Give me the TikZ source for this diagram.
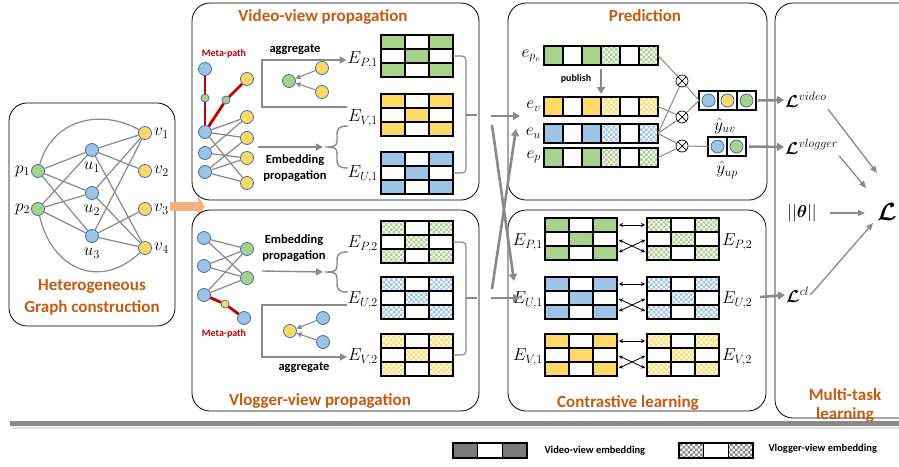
\documentclass[tikz,border=0pt]{standalone}
\usepackage{amsmath}
\usepackage{amssymb}
\usepackage{bm}
\usepackage[no-math]{fontspec}
\setmainfont{Carlito}
\usetikzlibrary{positioning, arrows.meta, calc, patterns}

\definecolor{pgreen}{HTML}{A9D18E}
\definecolor{pyellow}{HTML}{FFD966}
\definecolor{pblue}{HTML}{9DC3E6}
\definecolor{ptitle}{HTML}{C55A11}
\definecolor{porange}{HTML}{F4B183}
\definecolor{pred}{HTML}{C00000}
\definecolor{pline}{HTML}{898989}
\definecolor{pnode}{HTML}{41719C}

\pgfdeclarepatternformonly{finecheck}{\pgfqpoint{-0.1pt}{-0.1pt}}{\pgfqpoint{5.1pt}{5.1pt}}{\pgfqpoint{5pt}{5pt}}{%
  \pgfpathrectangle{\pgfqpoint{0pt}{0pt}}{\pgfqpoint{2.5pt}{2.5pt}}%
  \pgfpathrectangle{\pgfqpoint{2.5pt}{2.5pt}}{\pgfqpoint{2.5pt}{2.5pt}}%
  \pgfusepath{fill}}

\tikzset{
  panel/.style={draw=black, line width=0.8pt, rounded corners=18pt},
  ttl/.style={font=\fontsize{17}{22}\selectfont\bfseries, text=ptitle, align=center},
  boldtag/.style={font=\fontsize{12.5}{16}\selectfont\bfseries, align=center},
  redtag/.style={font=\fontsize{10}{12}\selectfont\bfseries, text=pred},
  legtext/.style={font=\fontsize{10.5}{12}\selectfont\bfseries},
  mlbl/.style={font=\fontsize{17}{20}\selectfont, inner sep=1pt},
  bignode/.style={circle, draw=pnode, line width=0.8pt, minimum size=13pt, inner sep=0pt},
  smallnode/.style={bignode, minimum size=8pt},
  glink/.style={draw=pline, line width=1.2pt},
  metalink/.style={draw=pred, line width=2.8pt},
  aggline/.style={draw=pline, line width=1.4pt},
  headarrow/.style={-{Triangle[length=7pt,width=7pt]}},
  smallarrow/.style={draw=pline, line width=1.1pt, -{Triangle[length=5pt,width=5pt]}},
  bigarrow/.style={draw=pline, line width=2.6pt, -{Triangle[length=7pt,width=8pt]}},
  lossarrow/.style={draw=pline, line width=1.3pt, -{Triangle[length=7pt,width=6pt]}},
  pairarrow/.style={black, line width=0.8pt, {Stealth[length=4pt,width=4pt]}-{Stealth[length=4pt,width=4pt]}, shorten <=2pt, shorten >=2pt},
  bracketline/.style={draw=pline, line width=1.2pt, rounded corners=4pt},
  gridline/.style={draw=black, line width=1.3pt, line cap=rect},
  cellbox/.style={inner sep=0pt, outer sep=0pt},
  otimes/.style={circle, draw=black, fill=white, line width=0.7pt, minimum size=12pt, inner sep=0pt,
    path picture={\draw[line width=0.7pt] (path picture bounding box.north west) -- (path picture bounding box.south east)
      (path picture bounding box.north east) -- (path picture bounding box.south west);}}
}

% 3x3 embedding table: name, top left corner, fill
\newcommand{\embgrid}[3]{%
  \begin{scope}[shift={#2}]
    \node[cellbox, minimum width=72pt, minimum height=42pt, anchor=north west] (#1) at (0,0) {};
    \foreach \cc/\rr in {0/0,2/0,1/1,0/2,2/2}
      \fill[#3] (\cc*24,\rr*14) rectangle ++(24,14);
    \foreach \ii in {0,1,2,3} {
      \draw[gridline] (\ii*24,0) -- (\ii*24,42);
      \draw[gridline] (0,\ii*14) -- (72,\ii*14);
    }
  \end{scope}}

% 1x6 concatenated embedding: name, top left corner, colour
\newcommand{\embrow}[3]{%
  \begin{scope}[shift={#2}]
    \node[cellbox, minimum width=114pt, minimum height=19pt, anchor=north west] (#1) at (0,0) {};
    \foreach \cc in {0,2} \fill[#3] (\cc*19,0) rectangle ++(19,19);
    \foreach \cc in {3,5} \fill[pattern=finecheck, pattern color=#3] (\cc*19,0) rectangle ++(19,19);
    \foreach \ii in {0,...,6} \draw[gridline] (\ii*19,0) -- (\ii*19,19);
    \draw[gridline] (0,0) -- (114,0) (0,19) -- (114,19);
  \end{scope}}

\begin{document}
\begin{tikzpicture}[x=1pt, y=-1pt]
\useasboundingbox (0,0) rectangle (899,466);

% Heterogeneous graph
\draw[panel] (9,103) rectangle (175,326);
\node[ttl] (hettitle) at (92,297) {Heterogeneous\\Graph construction};
\node[bignode, fill=pgreen] (p1) at (38,171) {};
\node[bignode, fill=pgreen] (p2) at (38,209) {};
\node[bignode, fill=pblue] (u1) at (92,150) {};
\node[bignode, fill=pblue] (u2) at (92,193) {};
\node[bignode, fill=pblue] (u3) at (92,236) {};
\node[bignode, fill=pyellow] (v1) at (145,133) {};
\node[bignode, fill=pyellow] (v2) at (145,171) {};
\node[bignode, fill=pyellow] (v3) at (145,209) {};
\node[bignode, fill=pyellow] (v4) at (145,248) {};
\node[mlbl, left=0pt of p1] (p1l) {$p_1$};
\node[mlbl, left=0pt of p2] (p2l) {$p_2$};
\foreach \k in {1,2,3}
  \node[mlbl, below=4pt of u\k] (u\k l) {$u_\k$};
\foreach \k in {1,...,4}
  \node[mlbl, right=1pt of v\k] (v\k l) {$v_\k$};
\foreach \a/\b in {p1/u1,p1/u2,p1/u3,p2/u1,p2/u2,p2/u3,u1/v1,u1/v2,u1/v4,u2/v1,u2/v4,u3/v1,u3/v3,u3/v4}
  \draw[glink] (\a) -- (\b);
\draw[glink] (p1) .. controls (52,120) and (100,108) .. (v1);
\draw[glink] (p2) .. controls (52,270) and (100,290) .. (v4);

% into vlogger view
\coordinate (hetout) at (170,206.5);
\coordinate (vlogin) at (205,206.5);
\draw[porange, line width=9pt, -{Triangle[length=7pt,width=20pt]}] (hetout) -- (vlogin);

% Video-view propagation
\draw[panel] (192,3) rectangle (479,200);
\node[ttl] (vidtitle) at (323,17) {Video-view propagation};
\node[redtag] (meta1) at (224,54) {Meta-path};
\node[bignode, fill=pblue] (mb1) at (205,69) {};
\node[smallnode, fill=pgreen] (mg1) at (205,98) {};
\node[bignode, fill=pblue] (mb2) at (205,132) {};
\node[smallnode, fill=pgreen] (mg2) at (226,100) {};
\node[bignode, fill=pyellow] (my1) at (247,79) {};
\node[bignode, fill=pblue] (b2) at (205,153) {};
\node[bignode, fill=pblue] (b3) at (205,172) {};
\node[bignode, fill=pyellow] (y1) at (247,117) {};
\node[bignode, fill=pyellow] (y2) at (247,138) {};
\node[bignode, fill=pyellow] (y3) at (247,158) {};
\node[bignode, fill=pyellow] (y4) at (247,183) {};
\foreach \a/\b in {mb1/mg1,mg1/mb2,mb2/mg2,mg2/my1}
  \draw[metalink] (\a) -- (\b);
\foreach \a/\b in {mb2/y1,mb2/y2,mb2/y4,b2/y1,b2/y3,b3/y2,b3/y3,b3/y4}
  \draw[glink] (\a) -- (\b);
\node[bignode, fill=pgreen] (ag) at (289,81) {};
\node[bignode, fill=pyellow] (ay1) at (322,68) {};
\node[bignode, fill=pyellow] (ay2) at (322,92) {};
\draw[smallarrow] (ay1) -- (ag);
\draw[smallarrow] (ay2) -- (ag);
\node[boldtag] (agg1) at (295,50) {aggregate};
\node[boldtag] (emb1) at (295,168) {Embedding\\propagation};

\embgrid{ep1}{(381,35)}{pgreen}
\embgrid{ev1}{(381,94)}{pyellow}
\embgrid{eu1}{(381,152)}{pblue}
\node[mlbl, anchor=east] (ep1l) at (379,60) {$E_{P,1}$};
\node[mlbl, anchor=east] (ev1l) at (379,118) {$E_{V,1}$};
\node[mlbl, anchor=east] (eu1l) at (379,174) {$E_{U,1}$};

\coordinate (aggv) at (262,107);
\draw[aggline, headarrow] (aggv -| ev1l.west) -- (aggv) |- (ep1l.west);
\coordinate (embv) at (258,147);
\coordinate (bracev) at (325,147);
\draw[aggline, headarrow, shorten >=2pt] (embv) -- (bracev);
\begin{scope}[shift={(bracev)}]
\draw[aggline] (23,-21) .. controls (14,-21) and (12,-19) .. (12,-12) -- (12,-6)
  .. controls (12,-1) and (9,0) .. (0,0) .. controls (9,0) and (12,1) .. (12,6) -- (12,12)
  .. controls (12,19) and (14,21) .. (23,21);
\end{scope}
\draw[bracketline] (ep1.east) -- ++(13,0) |- (eu1.east);
\coordinate (tickv) at ($(ev1.east)+(24,0)$);
\draw[bracketline] ($(ev1.east)+(13,0)$) -- (tickv);

% Vlogger-view propagation
\draw[panel] (192,210) rectangle (479,411);
\node[ttl] (vlogtitle) at (320,401) {Vlogger-view propagation};
\node[bignode, fill=pblue] (vb1) at (204,238) {};
\node[bignode, fill=pblue] (vb2) at (204,266) {};
\node[bignode, fill=pblue] (vb3) at (204,295) {};
\node[bignode, fill=pgreen] (vg1) at (247,249) {};
\node[bignode, fill=pgreen] (vg2) at (247,278) {};
\node[smallnode, fill=pyellow] (vsy) at (225,304) {};
\node[bignode, fill=pblue] (vb4) at (244,318) {};
\node[redtag] (meta2) at (224,334) {Meta-path};
\foreach \a/\b in {vb3/vsy,vsy/vb4}
  \draw[metalink] (\a) -- (\b);
\foreach \a in {vb1,vb2,vb3}
  \foreach \b in {vg1,vg2}
    \draw[glink] (\a) -- (\b);
\node[bignode, fill=pyellow] (agy) at (290,331) {};
\node[bignode, fill=pblue] (ab1) at (323,318) {};
\node[bignode, fill=pblue] (ab2) at (323,342) {};
\draw[smallarrow] (ab1) -- (agy);
\draw[smallarrow] (ab2) -- (agy);
\node[boldtag] (emb2) at (294,248) {Embedding\\propagation};
\node[boldtag] (agg2) at (304,368) {aggregate};

\embgrid{ep2}{(381,221)}{pattern=finecheck, pattern color=pgreen}
\embgrid{eu2}{(381,277)}{pattern=finecheck, pattern color=pblue}
\embgrid{ev2}{(381,334)}{pattern=finecheck, pattern color=pyellow}
\node[mlbl, anchor=east] (ep2l) at (379,244) {$E_{P,2}$};
\node[mlbl, anchor=east] (eu2l) at (379,300) {$E_{U,2}$};
\node[mlbl, anchor=east] (ev2l) at (379,357) {$E_{V,2}$};

\coordinate (embp) at (262,271);
\coordinate (bracep) at (325,272);
\draw[aggline, headarrow, shorten >=2pt] (embp) -- (bracep);
\begin{scope}[shift={(bracep)}]
\draw[aggline] (23,-20) .. controls (14,-20) and (12,-18) .. (12,-11) -- (12,-6)
  .. controls (12,-1) and (9,0) .. (0,0) .. controls (9,0) and (12,1) .. (12,6) -- (12,11)
  .. controls (12,18) and (14,20) .. (23,20);
\end{scope}
\coordinate (aggp) at (262,305);
\draw[aggline, headarrow] (aggp -| eu2l.west) -- (aggp) |- (ev2l.west);
\draw[bracketline] (ep2.east) -- ++(13,0) |- (ev2.east);
\coordinate (tickp) at ($(eu2.east)+(24,0)$);
\draw[bracketline] ($(eu2.east)+(13,0)$) -- (tickp);

% Prediction
\draw[panel] (508,3) rectangle (767,200);
\node[ttl] (predtitle) at (645,16) {Prediction};
\embrow{epv}{(544,46)}{pgreen}
\embrow{ev}{(544,97)}{pyellow}
\embrow{eu}{(544,124)}{pblue}
\embrow{ep}{(544,148)}{pgreen}
\node[mlbl, anchor=east] (epvl) at (542,56) {$e_{p_v}$};
\node[mlbl, anchor=east] (evl) at (542,106) {$e_v$};
\node[mlbl, anchor=east] (eul) at (542,133) {$e_u$};
\node[mlbl, anchor=east] (epl) at (542,157) {$e_p$};
\node[redtag, text=black] (publ) at (576,79) {publish};
\draw[bigarrow, shorten <=4pt, shorten >=3pt] (epv.south) -- (ev.north);
\node[otimes] (o1) at (682,81) {};
\node[otimes] (o2) at (682,117) {};
\node[otimes] (o3) at (682,146) {};
\foreach \a/\b in {epv/o1,eu/o1,ev/o2,eu/o2,eu/o3,ep/o3}
  \draw[pline, line width=1pt] (\a.east) -- (\b);
\node[cellbox, minimum width=57pt, minimum height=19pt, anchor=north west] (yuv) at (699,91) {};
\foreach \cc/\clr in {0/pblue,1/pyellow,2/pgreen} {
  \draw[gridline] (699+\cc*19,91) rectangle ++(19,19);
  \node[bignode, fill=\clr] (yuvdot\cc) at (708.5+\cc*19,100.5) {};
}
\node[cellbox, minimum width=38pt, minimum height=19pt, anchor=north west] (yup) at (708,137) {};
\foreach \cc/\clr in {0/pblue,1/pgreen} {
  \draw[gridline] (708+\cc*19,137) rectangle ++(19,19);
  \node[bignode, fill=\clr] (yupdot\cc) at (717.5+\cc*19,146.5) {};
}
\draw[pline, line width=1pt] (o1) -- (yuv.west);
\draw[pline, line width=1pt] (o2) -- (yuv.west);
\draw[pline, line width=1pt] (o3) -- (yup.west);
\node[mlbl] (yuvl) at (725,126) {$\hat{y}_{uv}$};
\node[mlbl] (yupl) at (727,170) {$\hat{y}_{up}$};

% Contrastive learning
\draw[panel] (508,210) rectangle (766,411);
\node[ttl] (cltitle) at (628,403) {Contrastive learning};
\embgrid{cp1}{(545,218)}{pgreen}
\embgrid{cu1}{(545,277)}{pblue}
\embgrid{cv1}{(545,334)}{pyellow}
\embgrid{cp2}{(647,218)}{pattern=finecheck, pattern color=pgreen}
\embgrid{cu2}{(647,277)}{pattern=finecheck, pattern color=pblue}
\embgrid{cv2}{(647,334)}{pattern=finecheck, pattern color=pyellow}
\foreach \m in {p,u,v} {
  \draw[pairarrow] ($(c\m1.north east)+(0,7)$) -- ($(c\m2.north west)+(0,7)$);
  \draw[pairarrow] ($(c\m1.north east)+(0,21)$) -- ($(c\m2.north west)+(0,35)$);
  \draw[pairarrow] ($(c\m1.north east)+(0,35)$) -- ($(c\m2.north west)+(0,21)$);
}
\node[mlbl, anchor=east] (cp1l) at (544,242) {$E_{P,1}$};
\node[mlbl, anchor=east] (cu1l) at (544,300) {$E_{U,1}$};
\node[mlbl, anchor=east] (cv1l) at (544,357) {$E_{V,1}$};
\node[mlbl, anchor=west] (cp2l) at (721,242) {$E_{P,2}$};
\node[mlbl, anchor=west] (cu2l) at (721,300) {$E_{U,2}$};
\node[mlbl, anchor=west] (cv2l) at (721,357) {$E_{V,2}$};

% views into prediction and contrastive learning
\coordinate (toev) at (520,116);
\coordinate (tocu) at (520,298);
\draw[bigarrow] ($(tickv)+(14,1)$) -- (toev);
\draw[bigarrow] ($(tickp)+(14,0)$) -- (tocu);
\coordinate (crossv) at (492,125);
\coordinate (crossvend) at (514,281);
\coordinate (crossp) at (492,289);
\coordinate (crosspend) at (516,129);
\draw[bigarrow] (crossv) -- (crossvend);
\draw[bigarrow] (crossp) -- (crosspend);

% Multi-task learning
\draw[panel] (775,3) rectangle (935,418);
\node[ttl, font=\fontsize{17}{19}\selectfont\bfseries] (mttitle) at (845,405) {Multi-task\\learning};
\node[mlbl, anchor=west] (lvideo) at (784,100) {$\bm{\mathcal{L}}^{video}$};
\node[mlbl, anchor=west] (lvlogger) at (784,147) {$\bm{\mathcal{L}}^{vlogger}$};
\node[mlbl] (ltheta) at (802,213) {$||\bm{\theta}||$};
\node[mlbl, anchor=west] (lcl) at (785,295) {$\bm{\mathcal{L}}^{cl}$};
\node[mlbl, font=\fontsize{26}{28}\selectfont, anchor=west] (lbig) at (876,212) {$\bm{\mathcal{L}}$};
\draw[bigarrow, shorten <=2pt] (yuv.east) -- (lvideo.west);
\draw[bigarrow, shorten <=3pt] (yup.east) -- (lvlogger.west);
\coordinate (clout) at (760,297);
\draw[bigarrow] (clout) -- (lcl.west);
\draw[lossarrow] (lvideo.south east) -- ($(lbig.west)+(1,-39)$);
\draw[lossarrow] (lvlogger.south east) -- ($(lbig.west)+(-10,-24)$);
\draw[lossarrow, shorten <=12pt] (ltheta.east) -- ($(lbig.west)+(-11,1)$);
\draw[lossarrow] (lcl.east) -- ($(lbig.west)+(-3,11)$);

% rule and legend
\draw[line width=2pt, black!12] (12,427.5) -- (899,427.5);
\draw[line width=4.5pt, pline] (10,423.5) -- (899,423.5);
\node[cellbox, minimum width=74pt, minimum height=15pt, anchor=north west] (legv) at (453,443) {};
\fill[pline!90!black] (453,443) rectangle ++(24.7,15) (502.3,443) rectangle ++(24.7,15);
\draw[gridline] (453,443) rectangle (527,458) (477.7,443) -- (477.7,458) (502.3,443) -- (502.3,458);
\node[legtext, anchor=west] (legvt) at (541,451) {Video-view embedding};
\node[cellbox, minimum width=74pt, minimum height=15pt, anchor=north west] (legg) at (679,443) {};
\fill[pattern=finecheck, pattern color=pline] (679,443) rectangle ++(24.7,15) (728.3,443) rectangle ++(24.7,15);
\draw[gridline] (679,443) rectangle (753,458) (703.7,443) -- (703.7,458) (728.3,443) -- (728.3,458);
\node[legtext, anchor=west] (leggt) at (765,449) {Vlogger-view embedding};
\end{tikzpicture}
\end{document}
